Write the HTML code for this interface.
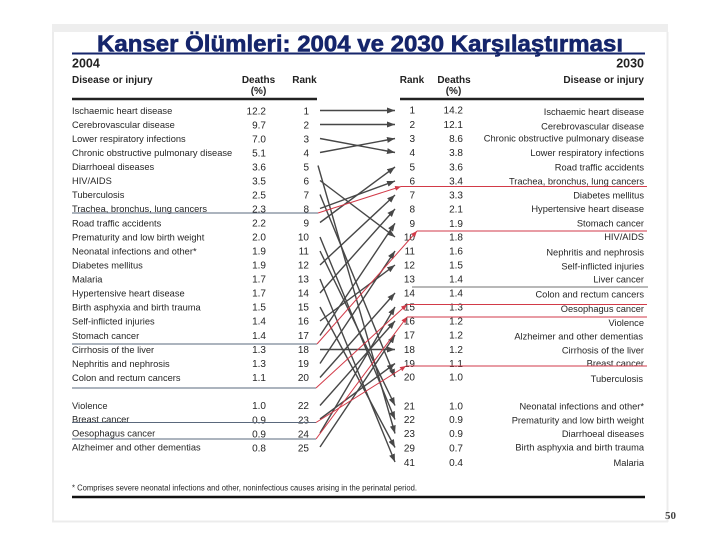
<!DOCTYPE html>
<html><head><meta charset="utf-8"><style>
html,body{margin:0;padding:0;background:#fff;}
svg{display:block;}
.n{font-family:"Liberation Sans",Arial,sans-serif;font-size:9.3px;fill:#262626;}
.v{font-family:"Liberation Sans",Arial,sans-serif;font-size:10px;fill:#262626;}
.h{font-family:"Liberation Sans",Arial,sans-serif;font-size:10px;font-weight:bold;fill:#222;}
.y{font-family:"Liberation Sans",Arial,sans-serif;font-size:12.5px;font-weight:bold;fill:#222;}
.g{stroke:#474747;stroke-width:1.4;fill:none;}
.r{stroke:#d23a48;stroke-width:1;fill:none;}
.u{stroke:#5a687c;stroke-width:1;}
</style></head><body>
<svg width="720" height="540" viewBox="0 0 720 540" xmlns="http://www.w3.org/2000/svg">
<defs>
<marker id="a" markerWidth="8" markerHeight="6" refX="8" refY="3" orient="auto" markerUnits="userSpaceOnUse"><path d="M0,0 L8,3 L0,6 z" fill="#474747"/></marker>
<marker id="b" markerWidth="6" markerHeight="5" refX="6" refY="2.5" orient="auto" markerUnits="userSpaceOnUse"><path d="M0,0 L6,2.5 L0,5 z" fill="#d23a48"/></marker>
</defs>
<rect width="720" height="540" fill="#fff"/>
<!-- frame -->
<rect x="52" y="24" width="616" height="8" fill="#eeeeee"/>
<line x1="53" y1="32" x2="53" y2="522" stroke="#ececec" stroke-width="2"/>
<line x1="667.5" y1="32" x2="667.5" y2="522" stroke="#ececec" stroke-width="2"/>
<line x1="52" y1="521.5" x2="668" y2="521.5" stroke="#ececec" stroke-width="2"/>

<!-- title -->
<text x="97" y="51.5" font-family="Liberation Sans,Arial,sans-serif" font-weight="bold" font-size="23.5" fill="#15256b" stroke="#15256b" stroke-width="0.6" textLength="526" lengthAdjust="spacingAndGlyphs">Kanser Ölümleri: 2004 ve 2030 Karşılaştırması</text>
<line x1="72" y1="53.5" x2="645" y2="53.5" stroke="#15256b" stroke-width="2"/>

<!-- headers left -->
<text class="y" x="72" y="67.5">2004</text>
<text class="h" x="72" y="83">Disease or injury</text>
<text class="h" x="258.5" y="83" text-anchor="middle">Deaths</text>
<text class="h" x="258.5" y="94" text-anchor="middle">(%)</text>
<text class="h" x="304.5" y="83" text-anchor="middle">Rank</text>
<line x1="72" y1="99" x2="317" y2="99" stroke="#222" stroke-width="2.5"/>
<!-- headers right -->
<text class="y" x="644" y="67.5" text-anchor="end">2030</text>
<text class="h" x="644" y="83" text-anchor="end">Disease or injury</text>
<text class="h" x="454" y="83" text-anchor="middle">Deaths</text>
<text class="h" x="453.5" y="94" text-anchor="middle">(%)</text>
<text class="h" x="412" y="83" text-anchor="middle">Rank</text>
<line x1="400" y1="99" x2="644" y2="99" stroke="#222" stroke-width="2.5"/>

<!-- left table -->
<g class="n">
<text x="72" y="114.1">Ischaemic heart disease</text>
<text x="72" y="128.1">Cerebrovascular disease</text>
<text x="72" y="142.2">Lower respiratory infections</text>
<text x="72" y="156.2">Chronic obstructive pulmonary disease</text>
<text x="72" y="170.2">Diarrhoeal diseases</text>
<text x="72" y="184.2">HIV/AIDS</text>
<text x="72" y="198.2">Tuberculosis</text>
<text x="72" y="212.2">Trachea, bronchus, lung cancers</text>
<text x="72" y="226.4">Road traffic accidents</text>
<text x="72" y="240.4">Prematurity and low birth weight</text>
<text x="72" y="254.4">Neonatal infections and other*</text>
<text x="72" y="268.4">Diabetes mellitus</text>
<text x="72" y="282.4">Malaria</text>
<text x="72" y="296.4">Hypertensive heart disease</text>
<text x="72" y="310.4">Birth asphyxia and birth trauma</text>
<text x="72" y="324.4">Self-inflicted injuries</text>
<text x="72" y="338.9">Stomach cancer</text>
<text x="72" y="352.9">Cirrhosis of the liver</text>
<text x="72" y="366.9">Nephritis and nephrosis</text>
<text x="72" y="380.9">Colon and rectum cancers</text>
<text x="72" y="408.9">Violence</text>
<text x="72" y="422.4">Breast cancer</text>
<text x="72" y="436.4">Oesophagus cancer</text>
<text x="72" y="450.4">Alzheimer and other dementias</text>
</g>
<g class="v" text-anchor="end">
<text x="266" y="114.4">12.2</text><text x="309" y="114.4">1</text>
<text x="266" y="128.4">9.7</text><text x="309" y="128.4">2</text>
<text x="266" y="142.5">7.0</text><text x="309" y="142.5">3</text>
<text x="266" y="156.5">5.1</text><text x="309" y="156.5">4</text>
<text x="266" y="170.5">3.6</text><text x="309" y="170.5">5</text>
<text x="266" y="184.5">3.5</text><text x="309" y="184.5">6</text>
<text x="266" y="198.5">2.5</text><text x="309" y="198.5">7</text>
<text x="266" y="212.5">2.3</text><text x="309" y="212.5">8</text>
<text x="266" y="226.7">2.2</text><text x="309" y="226.7">9</text>
<text x="266" y="240.7">2.0</text><text x="309" y="240.7">10</text>
<text x="266" y="254.7">1.9</text><text x="309" y="254.7">11</text>
<text x="266" y="268.7">1.9</text><text x="309" y="268.7">12</text>
<text x="266" y="282.7">1.7</text><text x="309" y="282.7">13</text>
<text x="266" y="296.7">1.7</text><text x="309" y="296.7">14</text>
<text x="266" y="310.7">1.5</text><text x="309" y="310.7">15</text>
<text x="266" y="324.7">1.4</text><text x="309" y="324.7">16</text>
<text x="266" y="339.2">1.4</text><text x="309" y="339.2">17</text>
<text x="266" y="353.2">1.3</text><text x="309" y="353.2">18</text>
<text x="266" y="367.2">1.3</text><text x="309" y="367.2">19</text>
<text x="266" y="381.2">1.1</text><text x="309" y="381.2">20</text>
<text x="266" y="409.2">1.0</text><text x="309" y="409.2">22</text>
<text x="266" y="423.4">0.9</text><text x="309" y="423.4">23</text>
<text x="266" y="437.4">0.9</text><text x="309" y="437.4">24</text>
<text x="266" y="451.4">0.8</text><text x="309" y="451.4">25</text>
</g>

<!-- right table -->
<g class="v" text-anchor="end">
<text x="415" y="113.7">1</text><text x="463" y="113.7">14.2</text>
<text x="415" y="128.2">2</text><text x="463" y="128.2">12.1</text>
<text x="415" y="142.2">3</text><text x="463" y="142.2">8.6</text>
<text x="415" y="156.2">4</text><text x="463" y="156.2">3.8</text>
<text x="415" y="170.7">5</text><text x="463" y="170.7">3.6</text>
<text x="415" y="184.7">6</text><text x="463" y="184.7">3.4</text>
<text x="415" y="198.7">7</text><text x="463" y="198.7">3.3</text>
<text x="415" y="212.7">8</text><text x="463" y="212.7">2.1</text>
<text x="415" y="227">9</text><text x="463" y="227">1.9</text>
<text x="415" y="240.7">10</text><text x="463" y="240.7">1.8</text>
<text x="415" y="254.7">11</text><text x="463" y="254.7">1.6</text>
<text x="415" y="268.7">12</text><text x="463" y="268.7">1.5</text>
<text x="415" y="282.7">13</text><text x="463" y="282.7">1.4</text>
<text x="415" y="296.7">14</text><text x="463" y="296.7">1.4</text>
<text x="415" y="310.7">15</text><text x="463" y="310.7">1.3</text>
<text x="415" y="324.7">16</text><text x="463" y="324.7">1.2</text>
<text x="415" y="338.7">17</text><text x="463" y="338.7">1.2</text>
<text x="415" y="353.2">18</text><text x="463" y="353.2">1.2</text>
<text x="415" y="367.2">19</text><text x="463" y="367.2">1.1</text>
<text x="415" y="380.7">20</text><text x="463" y="380.7">1.0</text>
<text x="415" y="409.4">21</text><text x="463" y="409.4">1.0</text>
<text x="415" y="423.2">22</text><text x="463" y="423.2">0.9</text>
<text x="415" y="437.2">23</text><text x="463" y="437.2">0.9</text>
<text x="415" y="451.4">29</text><text x="463" y="451.4">0.7</text>
<text x="415" y="466">41</text><text x="463" y="466">0.4</text>
</g>
<g class="n" text-anchor="end">
<text x="644" y="115.1">Ischaemic heart disease</text>
<text x="644" y="129.4">Cerebrovascular disease</text>
<text x="644" y="141.7">Chronic obstructive pulmonary disease</text>
<text x="644" y="156.1">Lower respiratory infections</text>
<text x="644" y="170.4">Road traffic accidents</text>
<text x="644" y="184.7">Trachea, bronchus, lung cancers</text>
<text x="644" y="198.7">Diabetes mellitus</text>
<text x="644" y="212.1">Hypertensive heart disease</text>
<text x="644" y="226.7">Stomach cancer</text>
<text x="644" y="240.1">HIV/AIDS</text>
<text x="644" y="255.4">Nephritis and nephrosis</text>
<text x="644" y="269.7">Self-inflicted injuries</text>
<text x="644" y="282.7">Liver cancer</text>
<text x="644" y="297.4">Colon and rectum cancers</text>
<text x="644" y="312.1">Oesophagus cancer</text>
<text x="644" y="326.1">Violence</text>
<text x="643" y="339.4">Alzheimer and other dementias</text>
<text x="644" y="353.4">Cirrhosis of the liver</text>
<text x="644" y="366.7">Breast cancer</text>
<text x="643" y="382.1">Tuberculosis</text>
<text x="644" y="409.4">Neonatal infections and other*</text>
<text x="644" y="423.4">Prematurity and low birth weight</text>
<text x="644" y="437.1">Diarrhoeal diseases</text>
<text x="644" y="450.7">Birth asphyxia and birth trauma</text>
<text x="644" y="466.1">Malaria</text>
</g>

<!-- underline rules -->
<g class="u">
<line x1="72" y1="213" x2="318" y2="213"/>
<line x1="72" y1="344" x2="317" y2="344"/>
<line x1="72" y1="388" x2="316" y2="388"/>
<line x1="72" y1="422.5" x2="316" y2="422.5"/>
<line x1="72" y1="439" x2="316" y2="439"/>
</g>
<line x1="412" y1="287" x2="648" y2="287" stroke="#707070" stroke-width="1"/>

<!-- gray arrows -->
<g class="g" marker-end="url(#a)">
<line x1="320" y1="110.5" x2="395" y2="110.5"/>
<line x1="320" y1="124.5" x2="395" y2="124.5"/>
<line x1="320" y1="138.5" x2="395" y2="152.5"/>
<line x1="320" y1="152.5" x2="395" y2="138.5"/>
<line x1="318" y1="165.5" x2="395" y2="433.5"/>
<line x1="320" y1="180.5" x2="395" y2="237"/>
<line x1="320" y1="194.5" x2="395" y2="377"/>
<line x1="320" y1="208.5" x2="395" y2="181"/>
<line x1="320" y1="222.5" x2="395" y2="167"/>
<line x1="320" y1="237" x2="395" y2="419.5"/>
<line x1="320" y1="251" x2="395" y2="405.5"/>
<line x1="320" y1="265" x2="395" y2="195"/>
<line x1="320" y1="279" x2="395" y2="462"/>
<line x1="320" y1="293" x2="395" y2="209"/>
<line x1="320" y1="307" x2="395" y2="447.5"/>
<line x1="320" y1="321" x2="395" y2="265"/>
<line x1="320" y1="335.5" x2="395" y2="223.3"/>
<line x1="320" y1="349.5" x2="395" y2="349.5"/>
<line x1="320" y1="363.5" x2="395" y2="251"/>
<line x1="320" y1="377.5" x2="395" y2="293"/>
<line x1="320" y1="405.5" x2="395" y2="321"/>
<line x1="320" y1="419" x2="395" y2="363.5"/>
<line x1="320" y1="433" x2="395" y2="307"/>
<line x1="320" y1="447" x2="395" y2="335"/>
</g>

<!-- red overlays -->
<g class="r">
<line x1="318" y1="213" x2="401" y2="186.5" marker-end="url(#b)"/>
<line x1="401" y1="186.5" x2="647" y2="186.5"/>
<line x1="317" y1="344" x2="417" y2="231" marker-end="url(#b)"/>
<line x1="417" y1="231" x2="647" y2="231"/>
<line x1="316" y1="388" x2="407" y2="304.5" marker-end="url(#b)"/>
<line x1="407" y1="304.5" x2="647" y2="304.5"/>
<line x1="316" y1="439" x2="407" y2="317" marker-end="url(#b)"/>
<line x1="407" y1="317" x2="647" y2="317"/>
<line x1="316" y1="422.5" x2="406" y2="366" marker-end="url(#b)"/>
<line x1="406" y1="366" x2="647" y2="366"/>
</g>

<!-- footnote -->
<text x="72" y="490.5" font-family="Liberation Sans,Arial,sans-serif" font-size="7.8" fill="#262626" textLength="345" lengthAdjust="spacingAndGlyphs">* Comprises severe neonatal infections and other, noninfectious causes arising in the perinatal period.</text>
<line x1="72" y1="497" x2="645" y2="497" stroke="#111" stroke-width="2.5"/>

<!-- page number -->
<text x="665" y="519" font-family="Liberation Serif,serif" font-weight="bold" font-size="11" fill="#444">50</text>
</svg>
</body></html>
